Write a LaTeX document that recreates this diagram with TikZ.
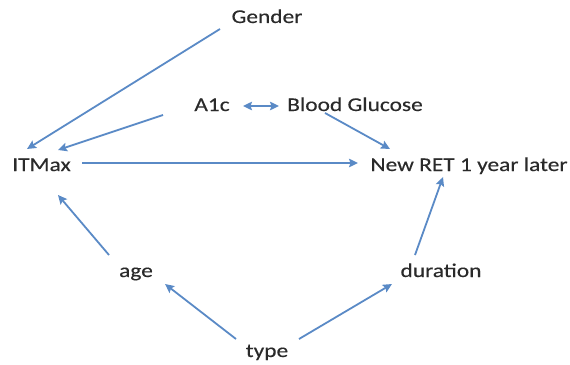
\documentclass[tikz,border=0pt]{standalone}
\usepackage{fontspec}
\setmainfont{Carlito}[FakeStretch=1.2,FakeBold=0.3]
\usepackage{tikz}
\usetikzlibrary{arrows.meta,positioning,calc}
\definecolor{arrowblue}{HTML}{5A8AC6}
\definecolor{labelgray}{HTML}{2A2A2A}

\begin{document}
\begin{tikzpicture}[x=1pt,y=-1pt,
    every node/.style={font=\fontsize{19.5}{22}\selectfont,text=labelgray,inner sep=0pt,anchor=base},
    link/.style={draw=arrowblue,line width=1.8pt,-{Stealth[length=9pt,width=8.5pt,inset=1.5pt]}}]
  \useasboundingbox (0,0) rectangle (570,364);
  % variables
  \node (gender) at (267,23) {Gender};
  \node (a1c) at (212,111) {A1c};
  \node (glucose) at (355,111) {Blood Glucose};
  \node (itmax) at (41.5,171) {ITMax};
  \node (newret) at (469,171) {New RET 1 year later};
  \node (age) at (136,277) {age};
  \node (duration) at (441,277) {duration};
  \node (type) at (267,357) {type};
  % arrows
  \draw[link] ([shift={(-47,6)}]gender.base) -- ([shift={(-14.5,-22)}]itmax.base);
  \draw[link] ([shift={(-49,4)}]a1c.base) -- ([shift={(16.5,-21)}]itmax.base);
  \draw[link,{Stealth[length=9pt,width=8.5pt,inset=1.5pt]}-{Stealth[length=9pt,width=8.5pt,inset=1.5pt]}]
    ([shift={(31,-5)}]a1c.base) -- ([shift={(-76,-5)}]glucose.base);
  \draw[link] ([shift={(-30,2)}]glucose.base) -- ([shift={(-79,-22)}]newret.base);
  \draw[link] ([shift={(40.5,-8)}]itmax.base) -- ([shift={(-111,-8)}]newret.base);
  \draw[link] ([shift={(-27,-22)}]age.base) -- ([shift={(16.5,24)}]itmax.base);
  \draw[link] ([shift={(-31,-18)}]type.base) -- ([shift={(29,7)}]age.base);
  \draw[link] ([shift={(32,-18)}]type.base) -- ([shift={(-49,7)}]duration.base);
  \draw[link] ([shift={(-26,-22)}]duration.base) -- ([shift={(-26,6)}]newret.base);
\end{tikzpicture}
\end{document}
